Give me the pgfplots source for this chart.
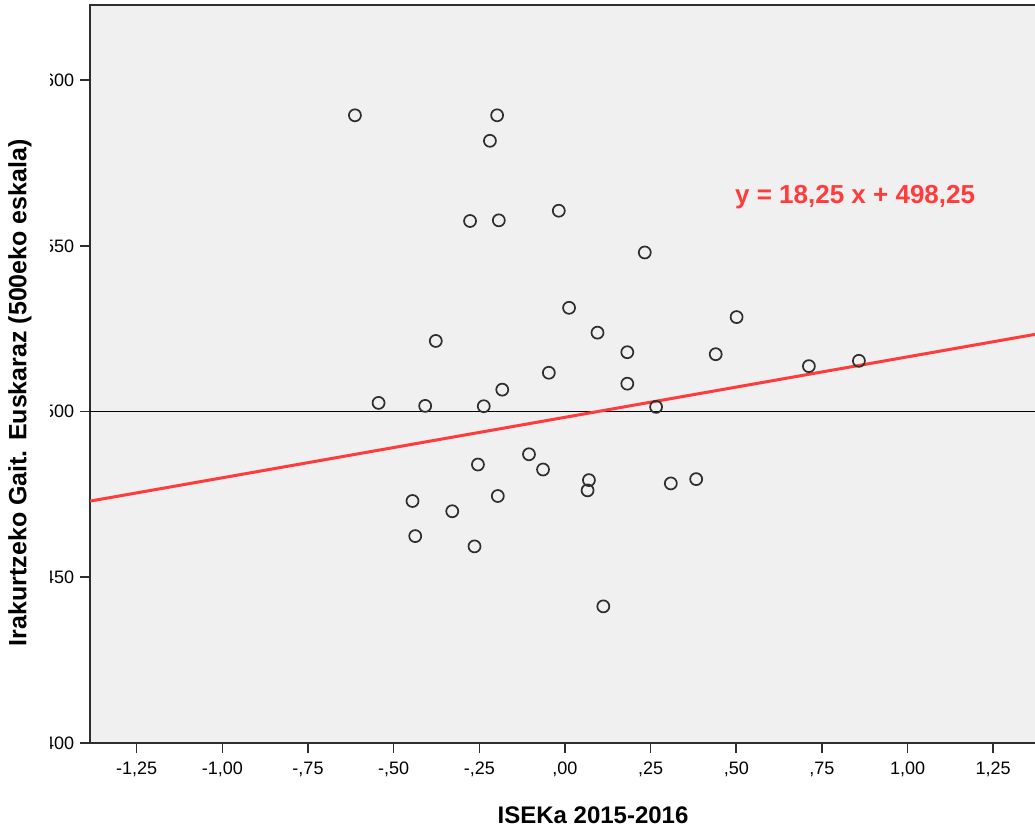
\documentclass[border=0pt]{standalone}
\usepackage{fontspec}
\setmainfont{Liberation Sans}
\usepackage{pgfplots}
\pgfplotsset{compat=1.18}
\definecolor{bg}{HTML}{F0F0F0}
\definecolor{fitc}{HTML}{FF3B3B}
\definecolor{ax}{HTML}{2E2E2E}
\begin{document}
\begin{tikzpicture}
\begin{axis}[
  x=171.3pt, y=1.6567pt,
  xmin=-1.386, xmax=1.45, ymin=400, ymax=622.7,
  axis background/.style={fill=bg},
  axis line style={ax, line width=0.8pt},
  tick style={ax, line width=0.8pt},
  tick pos=left, tick align=outside, major tick length=5pt,
  xtick={-1.25,-1,-0.75,-0.5,-0.25,0,0.25,0.5,0.75,1,1.25},
  xticklabels={{-1,25},{-1,00},{-,75},{-,50},{-,25},{,00},{,25},{,50},{,75},{1,00},{1,25}},
  ytick={400,450,500,550,600},
  yticklabels={400,450,500,550,600},
  ticklabel style={font=\fontsize{9}{10}\selectfont, text=black},
  xticklabel style={yshift=-1pt},
  yticklabel style={xshift=0.5pt},
]
\addplot[black, line width=0.9pt] coordinates {(-1.386,500) (1.45,500)};
\addplot[fitc, line width=1.5pt] coordinates {(-1.386,472.96) (1.45,524.71)};
\addplot[only marks, mark=o, mark size=3pt, mark options={line width=0.85pt, draw=ax}] table {
x y
-0.613 589.4
-0.198 589.4
-0.219 581.7
-0.277 557.5
-0.193 557.7
-0.018 560.6
0.233 548.0
0.012 531.3
0.095 523.8
0.182 517.9
-0.047 511.7
0.182 508.4
0.501 528.5
0.440 517.3
-0.377 521.3
-0.544 502.6
-0.408 501.7
-0.237 501.6
-0.183 506.6
0.266 501.4
0.712 513.7
0.858 515.3
-0.254 484.0
-0.105 487.1
-0.064 482.5
0.070 479.3
0.066 476.2
-0.445 473.0
-0.329 469.9
-0.196 474.5
-0.437 462.4
-0.264 459.3
0.112 441.2
0.309 478.3
0.383 479.6
};
\node[anchor=west, text=fitc, font=\bfseries\fontsize{13}{15}\selectfont] at (axis cs:0.476,564.7) {y = 18,25 x + 498,25};
\coordinate (bl) at (axis cs:-1.649,373.7);
\coordinate (tr) at (axis cs:1.372,624.2);
\coordinate (wcut) at (axis cs:-1.503,624.2);
\coordinate (ylab) at (axis cs:-1.591,505.7);
\coordinate (xlab) at (axis cs:0.082,378.1);
\end{axis}
\fill[white] (bl) rectangle (wcut);
\node[rotate=90, font=\bfseries\fontsize{12.5}{14}\selectfont] at (ylab) {Irakurtzeko Gait. Euskaraz (500eko eskala)};
\node[font=\bfseries\fontsize{12}{14}\selectfont] at (xlab) {ISEKa 2015-2016};
\pgfresetboundingbox
\useasboundingbox (bl) rectangle (tr);
\end{tikzpicture}
\end{document}
